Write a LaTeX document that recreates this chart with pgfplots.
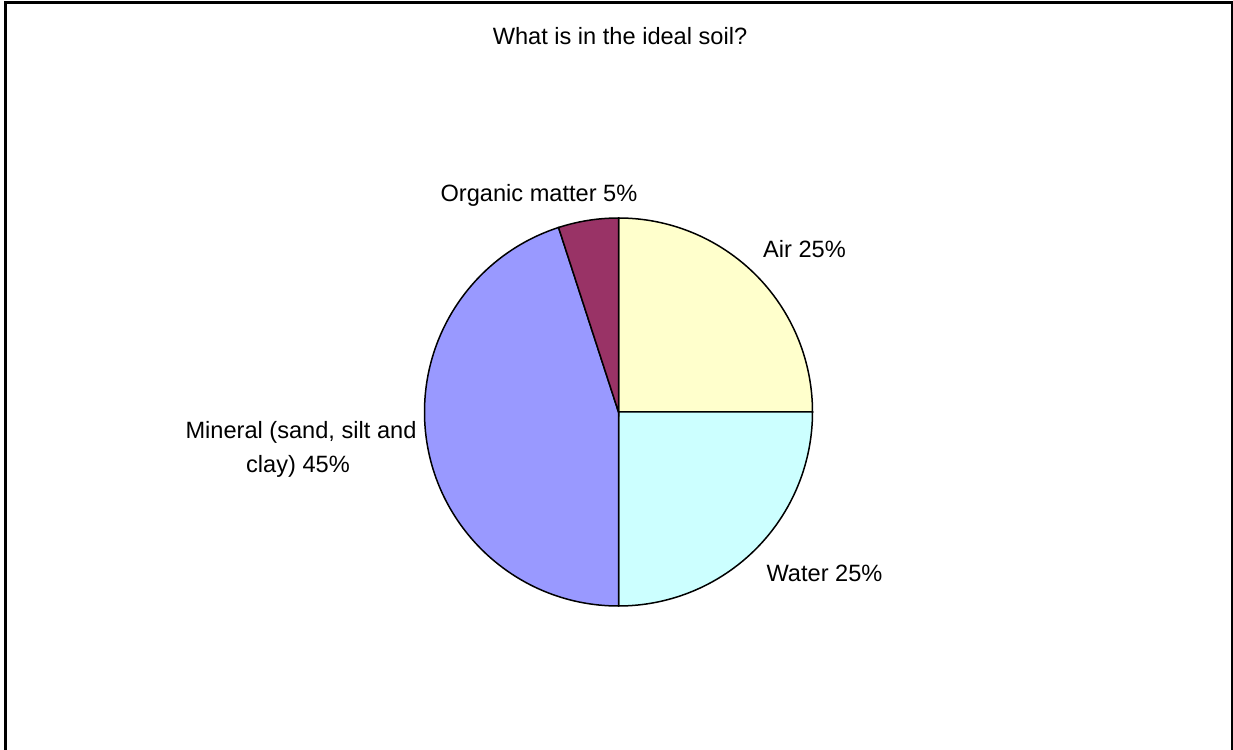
\documentclass[border=0pt]{standalone}
\usepackage{pgfplots}
\pgfplotsset{compat=1.18}
\usepackage{fontspec}
\setmainfont{Liberation Sans}
\definecolor{aircol}{HTML}{FFFFCC}
\definecolor{watercol}{HTML}{CCFFFF}
\definecolor{mincol}{HTML}{9999FF}
\definecolor{orgcol}{HTML}{993366}
\begin{document}
\begin{tikzpicture}
\useasboundingbox (0,0) rectangle (616.5pt,375pt);
\begin{axis}[at={(0,0)},anchor=south west,scale only axis,width=616.5pt,height=375pt,
  xmin=0,xmax=1233,ymin=0,ymax=750,hide axis,clip=false]
% frame
\draw[line width=1.35pt] (axis cs:5.3,-10) -- (axis cs:5.3,747.2) -- (axis cs:1232.3,747.2) -- (axis cs:1232.3,-10);
% pie slices: Air 25, Water 25, Mineral 45, Organic 5 (percent * 3.6 degrees)
\filldraw[fill=aircol,line width=0.75pt] (axis cs:618.5,338) -- ++(90:97pt) arc[start angle=90,delta angle=-25*3.6,radius=97pt] -- cycle;
\filldraw[fill=watercol,line width=0.75pt] (axis cs:618.5,338) -- ++(0:97pt) arc[start angle=0,delta angle=-25*3.6,radius=97pt] -- cycle;
\filldraw[fill=mincol,line width=0.75pt] (axis cs:618.5,338) -- ++(-90:97pt) arc[start angle=-90,delta angle=-45*3.6,radius=97pt] -- cycle;
\filldraw[fill=orgcol,line width=0.75pt] (axis cs:618.5,338) -- ++(-252:97pt) arc[start angle=-252,delta angle=-5*3.6,radius=97pt] -- cycle;
% labels
\node[anchor=base,inner sep=0pt,font=\fontsize{11.8}{14}\selectfont] at (axis cs:620,705.7) {What is in the ideal soil?};
\node[anchor=base,inner sep=0pt,font=\fontsize{11.8}{14}\selectfont] at (axis cs:539,548.3) {Organic matter 5\%};
\node[anchor=base,inner sep=0pt,font=\fontsize{11.8}{14}\selectfont] at (axis cs:804.5,492.7) {Air 25\%};
\node[anchor=base,inner sep=0pt,font=\fontsize{11.8}{14}\selectfont] at (axis cs:824.5,168.3) {Water 25\%};
\node[anchor=base,inner sep=0pt,font=\fontsize{11.8}{14}\selectfont] at (axis cs:301,311) {Mineral (sand, silt and};
\node[anchor=base,inner sep=0pt,font=\fontsize{11.8}{14}\selectfont] at (axis cs:298,277) {clay) 45\%};
\end{axis}
\end{tikzpicture}
\end{document}
